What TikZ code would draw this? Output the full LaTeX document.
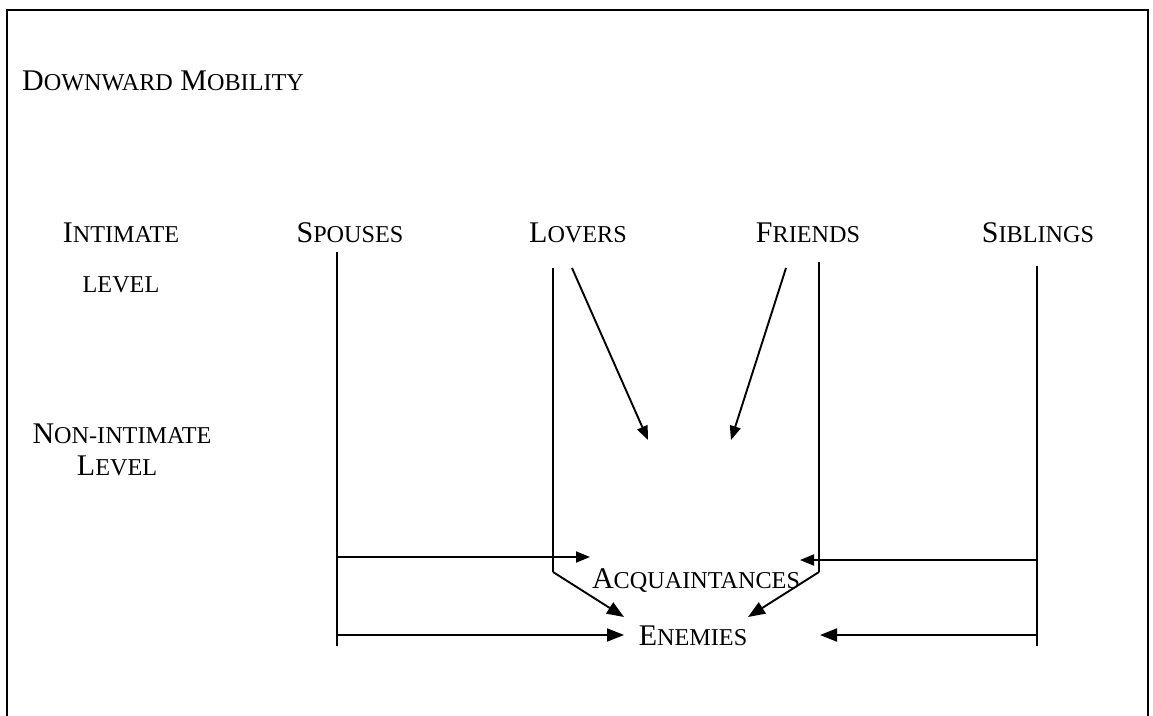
\documentclass[tikz,border=0pt]{standalone}
\usepackage{fontspec}
\setmainfont{Liberation Serif}
\usetikzlibrary{arrows.meta}
% faked small capitals: lower-case letters set as reduced capitals
\newcommand{\smc}[1]{{\fontsize{24.2pt}{27pt}\selectfont #1}}
\begin{document}
\begin{tikzpicture}[x=1pt,y=-1pt,
  lbl/.style={inner sep=0pt,anchor=base,font=\fontsize{30pt}{33pt}\selectfont},
  ln/.style={line width=1.9pt},
  arr/.style={ln,-{Triangle[length=14pt,width=11pt]}},
  barr/.style={ln,-{Triangle[length=17pt,width=13pt]}}]
\useasboundingbox (0,0) rectangle (1153,715);
% frame, open at the bottom
\draw[line width=1.6pt] (7,716) -- (7,10) -- (1148,10) -- (1148,716);

% labels
\node[lbl,anchor=base west] (title) at (22,90) {D\smc{OWNWARD} M\smc{OBILITY}};
\node[lbl] (intim) at (121,242) {I\smc{NTIMATE}};
\node[lbl] (ilevel) at (121,292) {\smc{LEVEL}};
\node[lbl] (nonint) at (122,443) {N\smc{ON-INTIMATE}};
\node[lbl] (nlevel) at (117,475) {L\smc{EVEL}};
\node[lbl] (spouses) at (350,242) {S\smc{POUSES}};
\node[lbl] (lovers) at (578,242) {L\smc{OVERS}};
\node[lbl] (friends) at (808,242) {F\smc{RIENDS}};
\node[lbl] (siblings) at (1038,242) {S\smc{IBLINGS}};
\node[lbl] (acq) at (696,588) {A\smc{CQUAINTANCES}};
\node[lbl] (enem) at (693,645) {E\smc{NEMIES}};

% end points of the vertical lines
\coordinate (sp1) at (337,252);  \coordinate (sp2) at (337,646);
\coordinate (lo1) at (553,268);  \coordinate (lo2) at (553,572);
\coordinate (fr1) at (819,262);  \coordinate (fr2) at (819,572);
\coordinate (si1) at (1037,266); \coordinate (si2) at (1037,646);
\coordinate (lod) at (572,268);  \coordinate (frd) at (786,268);
% arrow tips near the lower labels
\coordinate (acqL) at (590,557); \coordinate (acqR) at (800,560);
\coordinate (acqA) at (648,440); \coordinate (acqB) at (731,440);
\coordinate (enL) at (624,635);  \coordinate (enR) at (820,635);
\coordinate (enA) at (624,617);  \coordinate (enB) at (748,617);

% vertical lines
\draw[ln] (sp1) -- (sp2);
\draw[ln] (lo1) -- (lo2);
\draw[ln] (fr1) -- (fr2);
\draw[ln] (si1) -- (si2);

% arrows to Acquaintances
\draw[arr] (lod) -- (acqA);
\draw[arr] (frd) -- (acqB);
\draw[arr] (sp1 |- acqL) -- (acqL);
\draw[arr] (si1 |- acqR) -- (acqR);

% arrows to Enemies
\draw[barr] (lo2) -- (enA);
\draw[barr] (fr2) -- (enB);
\draw[barr] (sp1 |- enL) -- (enL);
\draw[barr] (si1 |- enR) -- (enR);
\end{tikzpicture}
\end{document}
